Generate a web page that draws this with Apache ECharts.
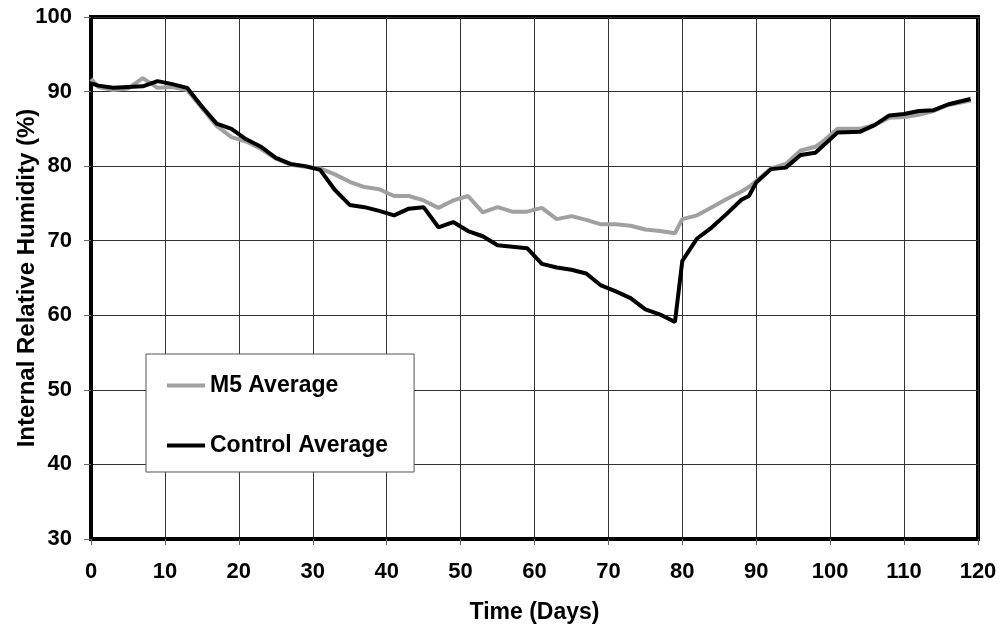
<!DOCTYPE html>
<html>
<head>
<meta charset="utf-8">
<script src="https://cdn.jsdelivr.net/npm/echarts@6/dist/echarts.min.js"></script>
<style>
  html, body { margin: 0; padding: 0; background: #fff; }
  #chart { width: 1003px; height: 629px; }
</style>
</head>
<body>
<div id="chart"></div>
<script>
// sampling days (x)
var days = [0, 1, 3, 5, 7, 9, 11, 13, 15, 17, 19, 21, 23, 25, 27, 29, 31, 33, 35, 37,
  39, 41, 43, 45, 47, 49, 51, 53, 55, 57, 59, 61, 63, 65, 67, 69, 71, 73, 75, 77,
  79, 80, 82, 84, 86, 88, 89, 90, 92, 94, 96, 98, 99, 101, 104, 106, 108, 110, 112, 114,
  116, 119];

// M5 Average (grey)
var m5Avg = [91.7, 90.6, 90.2, 90.4, 91.8, 90.5, 90.6, 90.2, 87.8, 85.4, 83.9, 83.3, 82.3, 81.0, 80.2, 79.9, 79.7, 78.9, 77.9, 77.2,
  76.9, 76.0, 76.0, 75.4, 74.4, 75.4, 76.0, 73.8, 74.5, 73.9, 73.9, 74.4, 72.9, 73.3, 72.8, 72.2, 72.2, 72.0, 71.5, 71.3,
  71.0, 72.9, 73.4, 74.5, 75.6, 76.6, 77.2, 78.0, 79.7, 80.3, 82.1, 82.6, 83.3, 85.0, 85.0, 85.5, 86.5, 86.6, 86.9, 87.4,
  88.2, 88.8];

// Control Average (black)
var controlAvg = [91.1, 90.8, 90.5, 90.6, 90.7, 91.4, 91.0, 90.5, 88.0, 85.7, 85.0, 83.6, 82.6, 81.1, 80.3, 80.0, 79.5, 76.8, 74.8, 74.5,
  74.0, 73.4, 74.3, 74.5, 71.8, 72.5, 71.3, 70.6, 69.4, 69.2, 69.0, 66.9, 66.4, 66.1, 65.6, 64.0, 63.2, 62.3, 60.8, 60.1,
  59.1, 67.3, 70.3, 71.8, 73.6, 75.5, 76.0, 77.8, 79.6, 79.8, 81.5, 81.8, 82.7, 84.5, 84.6, 85.5, 86.8, 87.0, 87.4, 87.5,
  88.3, 89.0];

var seriesNames = ['M5 Average', 'Control Average'];

function pairs(xs, ys) {
  var out = [];
  for (var i = 0; i < xs.length; i++) {
    out.push([xs[i], ys[i]]);
  }
  return out;
}

var font = "'Liberation Sans', Arial, sans-serif";

var chart = echarts.init(document.getElementById('chart'), null, { renderer: 'canvas' });

var option = {
  animation: false,
  backgroundColor: '#fff',
  grid: {
    left: 91,
    right: 25,
    top: 17,
    bottom: 90,
    outerBoundsMode: 'none',
    containLabel: false,
    show: true,
    borderColor: '#000',
    borderWidth: 4,
    backgroundColor: 'transparent'
  },
  legend: {
    orient: 'vertical',
    left: 146,
    top: 354,
    padding: [20, 26, 15, 21],
    itemGap: 37,
    itemWidth: 38,
    itemHeight: 4,
    icon: 'rect',
    backgroundColor: '#fff',
    borderColor: '#555',
    borderWidth: 1,
    borderRadius: 0,
    textStyle: {
      fontFamily: font,
      fontWeight: 'bold',
      fontSize: 23,
      color: '#000'
    },
    data: seriesNames
  },
  xAxis: {
    type: 'value',
    min: 0,
    max: 120,
    interval: 10,
    name: 'Time (Days)',
    nameLocation: 'middle',
    nameGap: 62,
    nameMoveOverlap: false,
    nameTextStyle: {
      fontFamily: font,
      fontWeight: 'bold',
      fontSize: 23,
      color: '#000'
    },
    axisLine: { lineStyle: { color: '#000', width: 4 } },
    axisTick: { show: true, inside: false, length: 6, lineStyle: { color: '#666', width: 1 } },
    axisLabel: {
      margin: 22,
      fontFamily: font,
      fontWeight: 'bold',
      fontSize: 22,
      color: '#000'
    },
    splitLine: { show: true, lineStyle: { color: '#333', width: 1 } }
  },
  yAxis: {
    type: 'value',
    min: 30,
    max: 100,
    interval: 10,
    name: 'Internal Relative Humidity (%)',
    nameLocation: 'middle',
    nameGap: 52,
    nameMoveOverlap: false,
    nameTextStyle: {
      fontFamily: font,
      fontWeight: 'bold',
      fontSize: 24,
      color: '#000'
    },
    axisLine: { show: true, lineStyle: { color: '#000', width: 4 } },
    axisTick: { show: true, inside: false, length: 7, lineStyle: { color: '#666', width: 1 } },
    axisLabel: {
      margin: 19,
      fontFamily: font,
      fontWeight: 'bold',
      fontSize: 22,
      color: '#000'
    },
    splitLine: { show: true, lineStyle: { color: '#333', width: 1 } }
  },
  series: [
    {
      name: seriesNames[0],
      type: 'line',
      data: pairs(days, m5Avg),
      symbol: 'none',
      itemStyle: { color: '#a0a0a0' },
      lineStyle: { color: '#a0a0a0', width: 4 },
      z: 3
    },
    {
      name: seriesNames[1],
      type: 'line',
      data: pairs(days, controlAvg),
      symbol: 'none',
      itemStyle: { color: '#000' },
      lineStyle: { color: '#000', width: 4 },
      z: 4
    }
  ]
};

chart.setOption(option);
</script>
</body>
</html>
